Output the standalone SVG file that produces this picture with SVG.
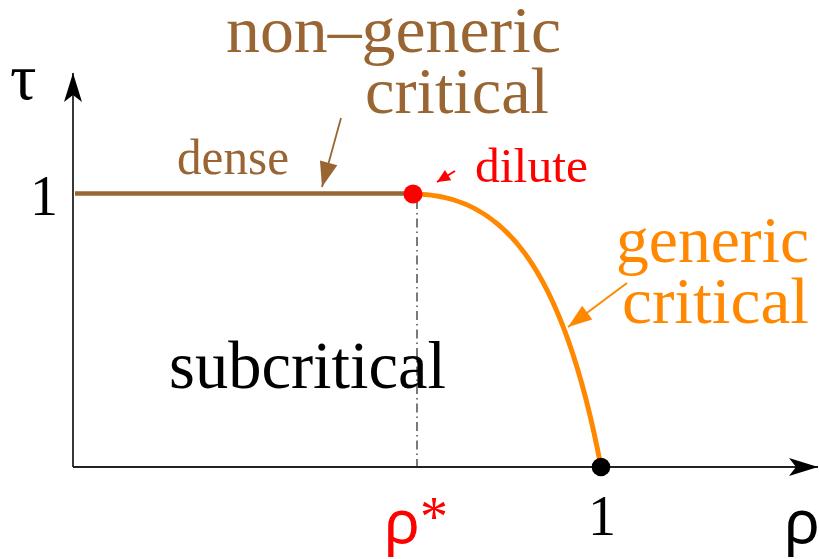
<svg xmlns="http://www.w3.org/2000/svg" width="819" height="559" viewBox="0 0 819 559">
<style>
.serif{font-family:"Liberation Serif","Times New Roman",serif}
.sans{font-family:"Noto Sans","DejaVu Sans",sans-serif}
.brown{fill:#996633}
.orange{fill:#FF8800}
.red{fill:#FF0000}
.blk{fill:#000}
.axis{stroke:#222;stroke-width:1.8;fill:none}
</style>
<defs>
<marker id="axhead" viewBox="-30 -10 31 20" refX="0" refY="0" markerWidth="31" markerHeight="20" markerUnits="userSpaceOnUse" orient="auto">
<path d="M0,0 L-29,-9 L-22,0 L-29,9 Z" fill="#000"/>
</marker>
<marker id="brhead" viewBox="-26 -10 27 20" refX="0" refY="0" markerWidth="27" markerHeight="20" markerUnits="userSpaceOnUse" orient="auto">
<path d="M0,0 L-25,-9 L-25,9 Z" fill="#996633"/>
</marker>
<marker id="orhead" viewBox="-26 -10 27 20" refX="0" refY="0" markerWidth="27" markerHeight="20" markerUnits="userSpaceOnUse" orient="auto">
<path d="M0,0 L-24,-8.5 L-24,8.5 Z" fill="#FF8800"/>
</marker>
<marker id="rdhead" viewBox="-14 -7 15 14" refX="0" refY="0" markerWidth="15" markerHeight="14" markerUnits="userSpaceOnUse" orient="auto">
<path d="M0,0 L-13,-6 L-13,6 Z" fill="#FF0000"/>
</marker>
</defs>

<g id="connectors">
<line class="axis" x1="73" y1="467" x2="73" y2="73" marker-end="url(#axhead)"/>
<line class="axis" x1="73" y1="467" x2="818" y2="467" marker-end="url(#axhead)"/>
<line x1="417" y1="200" x2="417" y2="467" stroke="#222" stroke-width="1.2" stroke-dasharray="9,4,1.5,4"/>
<line x1="75" y1="193.5" x2="413" y2="193.5" stroke="#996633" stroke-width="4.5"/>
<path d="M413,194 C500,194 562,262 601,467" fill="none" stroke="#FF8800" stroke-width="5"/>
<line x1="341" y1="118" x2="322" y2="187" stroke="#996633" stroke-width="1.8" marker-end="url(#brhead)"/>
<line x1="627" y1="283" x2="568" y2="327" stroke="#FF8800" stroke-width="2" marker-end="url(#orhead)"/>
<line x1="455" y1="171" x2="437" y2="182" stroke="#FF0000" stroke-width="2" marker-end="url(#rdhead)"/>
</g>

<g id="dilute-point"><circle cx="413" cy="194" r="9.5" fill="#FF0000"/></g>
<g id="unit-point"><circle cx="601" cy="467" r="9.3" fill="#000"/></g>

<g id="axis-labels">
<text class="serif blk" x="10" y="99" font-size="66">τ</text>
<text class="serif blk" x="30" y="215" font-size="56">1</text>
<text class="serif blk" x="588" y="535" font-size="56">1</text>
<text class="sans blk" x="784" y="543" font-size="60">ρ</text>
<text class="sans red" x="384" y="543" font-size="60">ρ</text>
<text class="serif red" x="420" y="536" font-size="56">*</text>
</g>

<g id="label-nongeneric">
<text class="serif brown" x="226" y="52" font-size="65" textLength="335" lengthAdjust="spacingAndGlyphs">non–generic</text>
<text class="serif brown" x="365" y="113" font-size="65" textLength="184" lengthAdjust="spacingAndGlyphs">critical</text>
</g>
<g id="label-dense"><text class="serif brown" x="177" y="174" font-size="50" textLength="112" lengthAdjust="spacingAndGlyphs">dense</text></g>
<g id="label-dilute"><text class="serif red" x="475" y="182" font-size="49" textLength="113" lengthAdjust="spacingAndGlyphs">dilute</text></g>
<g id="label-generic">
<text class="serif orange" x="616" y="262" font-size="66" textLength="193" lengthAdjust="spacingAndGlyphs">generic</text>
<text class="serif orange" x="622" y="323" font-size="66" textLength="187" lengthAdjust="spacingAndGlyphs">critical</text>
</g>
<g id="label-subcritical"><text class="serif blk" x="169" y="388" font-size="68" textLength="277" lengthAdjust="spacingAndGlyphs">subcritical</text></g>
</svg>
